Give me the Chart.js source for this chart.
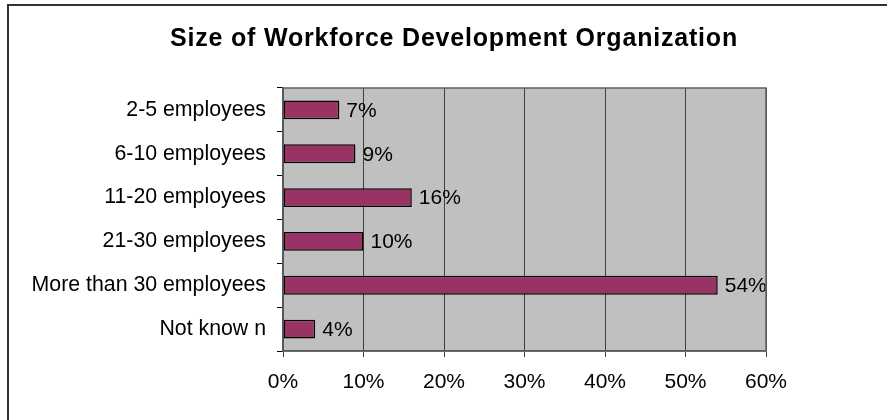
<!DOCTYPE html>
<html>
<head>
<meta charset="utf-8">
<script src="https://cdn.jsdelivr.net/npm/chart.js@4.4.1/dist/chart.umd.min.js"></script>
<style>
  html, body { margin: 0; padding: 0; background: #fff; }
  #wrap { width: 887px; height: 420px; }
</style>
</head>
<body>
<div id="wrap"><canvas id="sizeChart" width="887" height="420"></canvas></div>
<script>
const title = 'Size of Workforce Development Organization';
const categories = ['2-5 employees', '6-10 employees', '11-20 employees', '21-30 employees', 'More than 30 employees', 'Not know n'];
const shares = [7, 9, 16, 10, 54, 4];
const xTicks = [0, 10, 20, 30, 40, 50, 60];

const FONT = '"Liberation Sans", Arial, sans-serif';

// grey plot background, frame and the outer box with the title
const framePlugin = {
  id: 'frame',
  beforeDraw(chart) {
    const { ctx, chartArea: a } = chart;
    ctx.save();
    ctx.fillStyle = '#fff';
    ctx.fillRect(0, 0, chart.width, chart.height);
    ctx.fillStyle = '#c0c0c0';
    ctx.fillRect(a.left, a.top, a.right - a.left, a.bottom - a.top);
    ctx.restore();
  },
  afterDraw(chart) {
    const { ctx, chartArea: a } = chart;
    ctx.save();
    ctx.strokeStyle = '#606060';
    ctx.lineWidth = 1.5;
    ctx.strokeRect(a.left, a.top, a.right - a.left, a.bottom - a.top);

    ctx.strokeStyle = '#333';
    ctx.lineWidth = 2;
    ctx.strokeRect(8, 5, 1000, 1000);

    ctx.fillStyle = '#000';
    ctx.font = 'bold 25px ' + FONT;
    ctx.letterSpacing = '0.8px';
    ctx.textAlign = 'center';
    ctx.textBaseline = 'middle';
    ctx.fillText(title, 454, 39);
    ctx.restore();
  }
};

// percentage text to the right of each bar
const valueLabels = {
  id: 'valueLabels',
  afterDatasetsDraw(chart) {
    const { ctx } = chart;
    const meta = chart.getDatasetMeta(0);
    ctx.save();
    ctx.fillStyle = '#000';
    ctx.font = '21px ' + FONT;
    ctx.textAlign = 'left';
    ctx.textBaseline = 'middle';
    meta.data.forEach((bar, i) => {
      ctx.fillText(shares[i] + '%', bar.x + 7, bar.y + 1);
    });
    ctx.restore();
  }
};

new Chart(document.getElementById('sizeChart'), {
  type: 'bar',
  data: {
    labels: categories,
    datasets: [{
      data: shares,
      backgroundColor: '#993366',
      borderColor: '#000',
      borderWidth: 1.5,
      borderSkipped: false,
      categoryPercentage: 1,
      barPercentage: 0.43
    }]
  },
  options: {
    indexAxis: 'y',
    responsive: false,
    animation: false,
    layout: { padding: { top: 88, right: 121, left: 0, bottom: 0 } },
    plugins: {
      legend: { display: false },
      title: { display: false },
      tooltip: { enabled: false }
    },
    scales: {
      x: {
        min: 0,
        max: 60,
        afterBuildTicks: (s) => { s.ticks = xTicks.map(v => ({ value: v })); },
        afterFit: (s) => { s.height = 69; },
        ticks: {
          callback: (v) => v + '%',
          color: '#000',
          font: { family: FONT, size: 21 },
          padding: 13,
          maxRotation: 0
        },
        grid: { color: '#404040', lineWidth: 1, tickLength: 6, drawTicks: true },
        border: { color: '#404040', width: 1.5 }
      },
      y: {
        afterFit: (s) => { s.width = 283; },
        ticks: {
          color: '#000',
          font: { family: FONT, size: 21.3 },
          padding: 11
        },
        grid: { drawOnChartArea: false, color: '#000', tickLength: 6, offset: true },
        border: { color: '#404040', width: 1.5 }
      }
    }
  },
  plugins: [framePlugin, valueLabels]
});
</script>
</body>
</html>
